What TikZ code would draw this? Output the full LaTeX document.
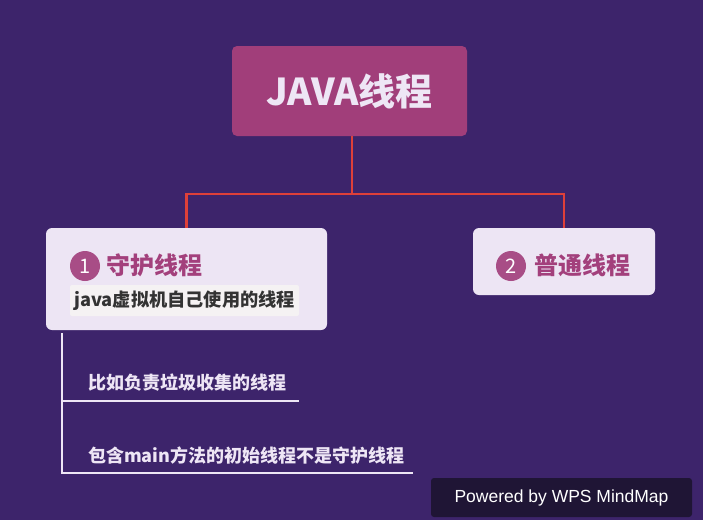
\documentclass[tikz,border=0pt]{standalone}
\usepackage{fontspec}
\setmainfont{Noto Sans CJK SC}
\newfontfamily\wmfont{Liberation Sans}
\definecolor{bgc}{HTML}{3D246B}
\definecolor{rootc}{HTML}{A13E7A}
\definecolor{boxc}{HTML}{EDE5F4}
\definecolor{circc}{HTML}{A84D86}
\definecolor{titc}{HTML}{A3407C}
\definecolor{subbg}{HTML}{F5F2F3}
\definecolor{subtx}{HTML}{333333}
\definecolor{lightc}{HTML}{EEE6F5}
\definecolor{redc}{HTML}{DE4039}
\definecolor{wmbg}{HTML}{1F1535}
\tikzset{
  rootbox/.style={fill=rootc, rounded corners=5pt, minimum width=235pt, minimum height=90pt, text=lightc, font=\fontsize{37}{40}\selectfont\bfseries, inner sep=0pt},
  topicbox/.style={fill=boxc, rounded corners=6pt, inner sep=0pt},
  numcirc/.style={circle, fill=circc, minimum size=30pt, inner sep=0pt, text=white, font=\fontsize{20}{22}\selectfont},
  toptext/.style={text=titc, font=\fontsize{24}{27}\selectfont\bfseries, inner sep=0pt, anchor=west},
  sublabel/.style={fill=subbg, rounded corners=2pt, text=subtx, font=\fontsize{18.2}{20}\selectfont\bfseries, inner sep=0pt, minimum height=31pt, minimum width=229pt},
  childtext/.style={text=lightc, font=\fontsize{18}{20}\selectfont\bfseries, inner sep=0pt, anchor=west},
  conn/.style={draw=redc, line width=2.5pt},
  childline/.style={draw=lightc, line width=1.2pt},
  wmbox/.style={fill=wmbg, rounded corners=3pt, minimum width=261pt, minimum height=39pt, text=white, font=\wmfont\fontsize{17.5}{20}\selectfont, inner sep=0pt}
}
\begin{document}
\begin{tikzpicture}[x=1pt,y=-1pt]
\path[fill=bgc, use as bounding box] (0,0) rectangle (703,520);
\node[rootbox] (root) at (349.5,91) {JAVA线程};
\node[topicbox, minimum width=281pt, minimum height=102pt] (b1) at (186.5,279) {};
\node[topicbox, minimum width=182pt, minimum height=67pt] (b2) at (564,261.5) {};
\coordinate (j) at (352,194);
\draw[conn] (352,136) -- (j);
\draw[conn] (j) -| (b1.north);
\draw[conn] (j) -| (b2.north);
% topic 1
\node[numcirc] (n1) at (85,266) {1};
\node[toptext] (t1) at (106,265) {守护线程};
\node[sublabel] (s1) at (184.5,300.5) {java虚拟机自己使用的线程};
% topic 2
\node[numcirc] (n2) at (511,266) {2};
\node[toptext] (t2) at (534,265) {普通线程};
% children
\coordinate (c0) at (62,333);
\coordinate (c1) at (62,401);
\coordinate (c1e) at (299,401);
\coordinate (c2) at (62,473);
\coordinate (c2e) at (413,473);
\node[childtext] (k1) at (88,383) {比如负责垃圾收集的线程};
\node[childtext] (k2) at (88,456) {包含main方法的初始线程不是守护线程};
\draw[childline] (c0) -- (c2) -- (c2e);
\draw[childline] (c1) -- (c1e);
% watermark
\node[wmbox] (wm) at (561.5,497.5) {Powered by WPS MindMap};
\end{tikzpicture}
\end{document}
